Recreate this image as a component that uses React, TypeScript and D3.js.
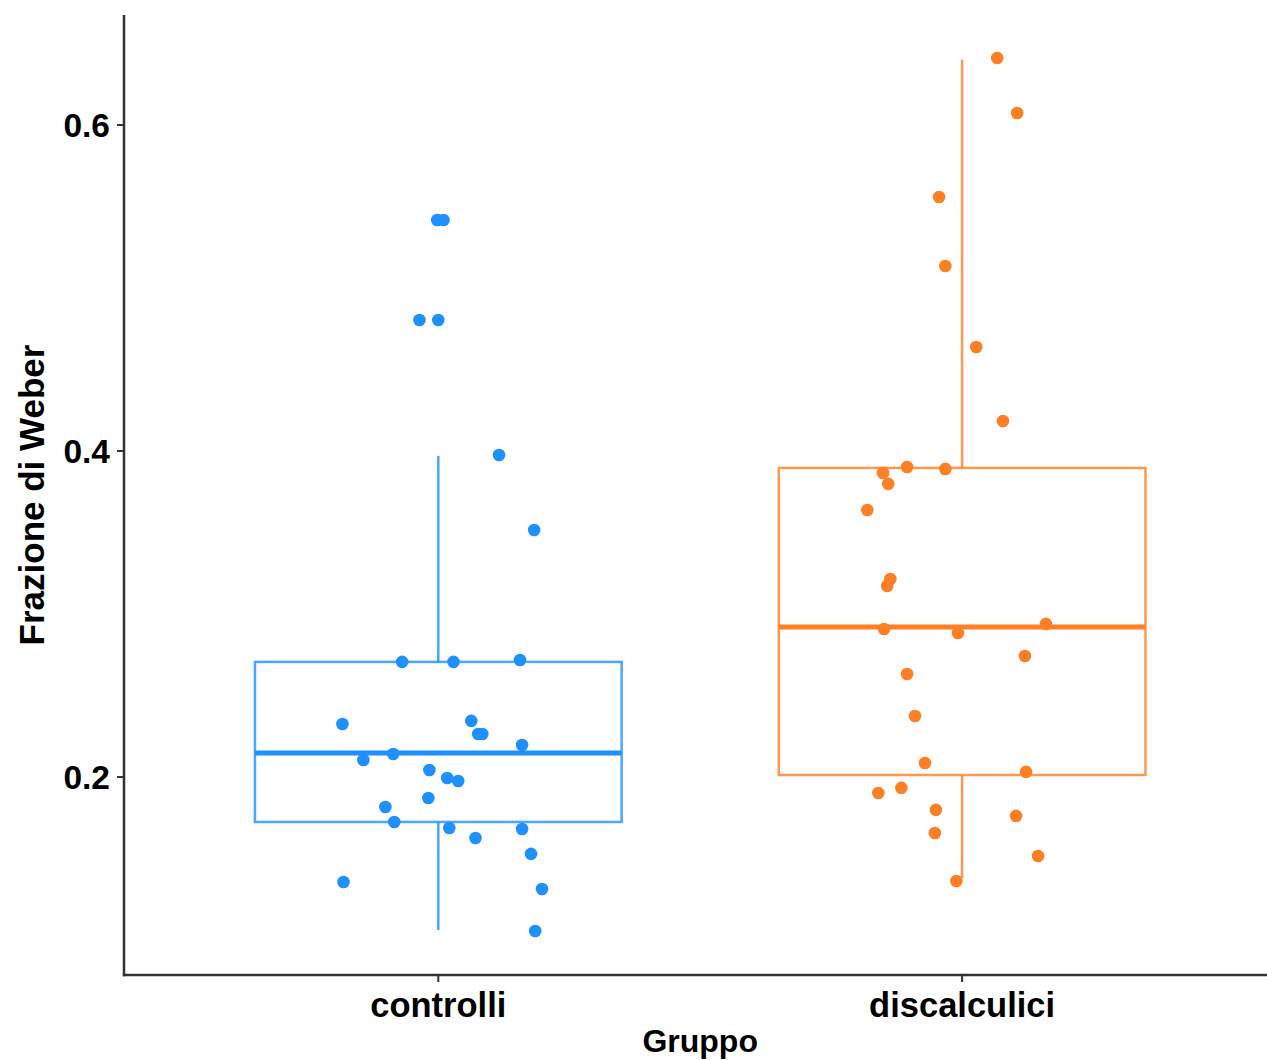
import React from "react"
import * as d3 from "d3"

const groups = ["controlli", "discalculici"]
const colors = ["#1e90ff", "#ff7f24"]

// box statistics: [whisker low, q1, median, q3, whisker high]
const boxControlli = [0.1061, 0.1724, 0.2147, 0.2706, 0.397]
const boxDiscalculici = [0.138, 0.2012, 0.292, 0.3896, 0.640]

// jittered points: value and horizontal offset (in category steps)
const valControlli = [0.5417, 0.5417, 0.4804, 0.4804, 0.3975, 0.3515, 0.2706, 0.2706, 0.2718,
    0.2325, 0.2344, 0.2264, 0.2264, 0.2196, 0.2104, 0.2141, 0.2043, 0.1994, 0.1975, 0.1871,
    0.1816, 0.1724, 0.1687, 0.1681, 0.1626, 0.1528, 0.1356, 0.1313, 0.1055]
const jitControlli = [-0.002, 0.010, -0.036, 0, 0.116, 0.183, -0.069, 0.029, 0.156,
    -0.183, 0.063, 0.076, 0.084, 0.160, -0.143, -0.086, -0.017, 0.017, 0.038, -0.019,
    -0.101, -0.084, 0.021, 0.160, 0.071, 0.177, -0.181, 0.198, 0.185]

const valDiscalculici = [0.6411, 0.6074, 0.5558, 0.5135, 0.4638, 0.4184, 0.3902, 0.3890,
    0.3865, 0.3798, 0.3638, 0.3215, 0.3172, 0.2908, 0.2883, 0.2939, 0.2742, 0.2632, 0.2374,
    0.2086, 0.2031, 0.1902, 0.1933, 0.1798, 0.1761, 0.1656, 0.1515, 0.1362]
const jitDiscalculici = [0.067, 0.105, -0.044, -0.032, 0.027, 0.078, -0.105, -0.032,
    -0.151, -0.141, -0.181, -0.137, -0.143, -0.149, -0.008, 0.160, 0.120, -0.105, -0.090,
    -0.071, 0.122, -0.160, -0.116, -0.050, 0.103, -0.052, 0.145, -0.011]

const yTicks = [0.2, 0.4, 0.6]

const W = 1267
const H = 1060
const left = 124
const top = 15
const bottom = 975
const right = 1276.4

const App = () => {
    const x = d3.scalePoint<string>().domain(groups).range([left, right]).padding(0.6)
    const step = x.step()
    const y = d3.scaleLinear().domain([0.0785, 0.6675]).range([bottom, top])
    const boxW = step * 0.7

    const boxes = [boxControlli, boxDiscalculici]
    const pts = [
        valControlli.map((v, i) => [v, jitControlli[i]]),
        valDiscalculici.map((v, i) => [v, jitDiscalculici[i]]),
    ]
    const font = "'Liberation Sans', Arial, Helvetica, sans-serif"

    return (
        <svg width={W} height={H} style={{position: "absolute", left: 0, top: 0, background: "#fff"}}
             fontFamily={font}>
            {groups.map((g, gi) => {
                const cx = x(g) as number
                const [lo, q1, med, q3, hi] = boxes[gi]
                const c = colors[gi]
                return (
                    <g key={g}>
                        <g stroke={c} strokeOpacity={0.8} fill="none" strokeWidth={2.5}>
                            <line x1={cx} x2={cx} y1={y(hi)} y2={y(q3)}/>
                            <line x1={cx} x2={cx} y1={y(q1)} y2={y(lo)}/>
                            <rect x={cx - boxW / 2} y={y(q3)} width={boxW} height={y(q1) - y(q3)}/>
                        </g>
                        <line x1={cx - boxW / 2} x2={cx + boxW / 2} y1={y(med)} y2={y(med)}
                              stroke={c} strokeWidth={5}/>
                        {pts[gi].map((p, i) => (
                            <circle key={i} cx={cx + p[1] * step} cy={y(p[0])} r={6.3} fill={c}/>
                        ))}
                    </g>
                )
            })}

            {/* axes */}
            <g stroke="#333" strokeWidth={2.5} fill="none">
                <line x1={left} x2={left} y1={top} y2={bottom + 1.2}/>
                <line x1={left - 1.2} x2={W} y1={bottom} y2={bottom}/>
            </g>
            {yTicks.map(t => (
                <g key={t}>
                    <line x1={left - 7} x2={left} y1={y(t)} y2={y(t)} stroke="#333" strokeWidth={2}/>
                    <text x={110} y={y(t)} dy="0.36em" textAnchor="end" fontSize={33.5}
                          fontWeight="bold" fill="#000">{d3.format(".1f")(t)}</text>
                </g>
            ))}
            {groups.map(g => (
                <g key={g}>
                    <line x1={x(g)} x2={x(g)} y1={bottom} y2={bottom + 7} stroke="#333" strokeWidth={2}/>
                    <text x={x(g)} y={1017} textAnchor="middle" fontSize={34.5}
                          fontWeight="bold" fill="#000">{g}</text>
                </g>
            ))}
            <text x={(left + right) / 2} y={1052} textAnchor="middle" fontSize={32}
                  fontWeight="bold" fill="#000">Gruppo</text>
            <text transform={`translate(44, 495) rotate(-90)`} textAnchor="middle" fontSize={35}
                  fontWeight="bold" fill="#000">Frazione di Weber</text>
        </svg>
    )
}

export default App
